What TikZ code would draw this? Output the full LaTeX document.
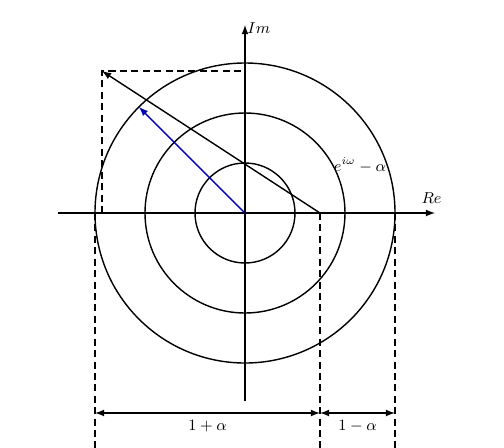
\documentclass[tikz,border=0pt]{standalone}
\usepackage{amsmath,amssymb}
\usepackage{xcolor}
\usetikzlibrary{calc}

\begin{document}
\begin{tikzpicture}[ax/.style = {thick, -latex},
dsh/.style = {thick, dash pattern = on 4pt off 2.5pt},
vec/.style = {thick, -latex},
dim/.style = {thick, latex-latex},
lbl/.style = {inner sep = 1 pt, font = \small}, scale = 1
]
\useasboundingbox (-4.9,-4.68) rectangle (5.18,4.26);
\coordinate (O) at (0,0);
\coordinate (A) at (1.5,0);
\coordinate (P) at (-2.86,2.84);
\coordinate (Q) at (135:3);
\foreach \r in {1,2,3}{\draw[thick] (O) circle (\r);}
\draw[ax] (-3.74,0) -- (3.8,0) node[lbl, above = 4pt, xshift = -2pt] (re) {$Re$};
\draw[ax] (0,-3.76) -- (0,3.76) node[lbl, right, yshift=-2pt] (im) {$Im$};
\draw[dsh] (-2.86,0) -- (P) -- (0,2.84);
\draw[vec] (A) -- (P);
\draw[vec, blue!70!black] (O) -- (Q);
\node[lbl] (lab) at (2.3,0.96) {$e^{i\omega}-\alpha$};
\foreach \x/\n in {-3/L, 1.5/M, 3/R}{\draw[dsh] (\x,0) -- (\x,-4.7); \coordinate (\n) at (\x,-4);}
\draw[dim] (L) --node[lbl, below=3pt]{$1+\alpha$} (M);
\draw[dim] (M) --node[lbl, below=3pt]{$1-\alpha$} (R);
\end{tikzpicture}
\end{document}
